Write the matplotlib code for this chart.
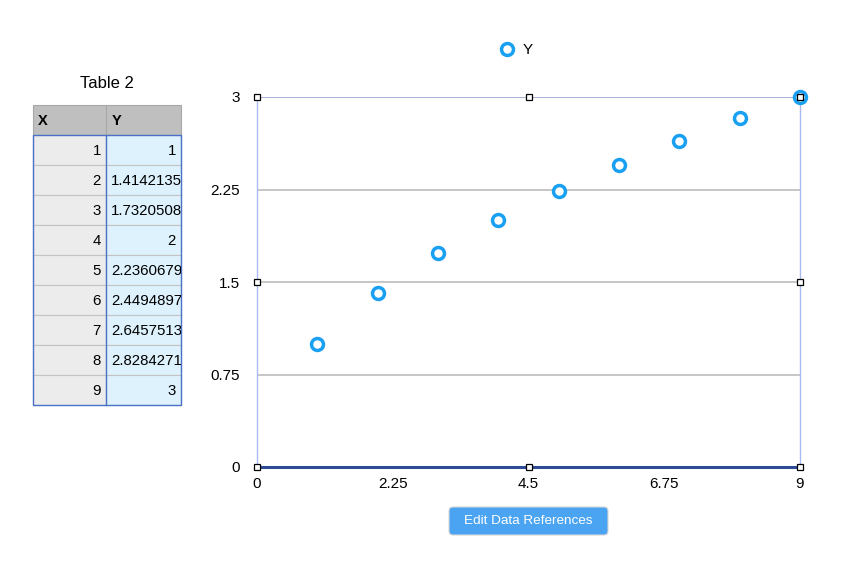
import matplotlib
matplotlib.use("Agg")
import matplotlib.pyplot as plt
from matplotlib.patches import Rectangle, FancyBboxPatch

# data (from the table in the screenshot)
x_vals = [1, 2, 3, 4, 5, 6, 7, 8, 9]
y_vals = [1, 1.41421356, 1.73205081, 2, 2.23606798, 2.44948974, 2.64575131, 2.82842712, 3]
y_text = ["1", "1.41421356", "1.73205081", "2", "2.23606798", "2.44948974", "2.64575131", "2.82842712", "3"]
x_ticks = [0, 2.25, 4.5, 6.75, 9]
x_tick_labels = ["0", "2.25", "4.5", "6.75", "9"]
y_ticks = [0, 0.75, 1.5, 2.25, 3]
y_tick_labels = ["0", "0.75", "1.5", "2.25", "3"]

plt.rcParams['font.family'] = ['Liberation Sans', 'DejaVu Sans']

W, H = 847, 570
fig = plt.figure(figsize=(W / 100, H / 100), dpi=100)

# background overlay in pixel coords for the table and button
bg = fig.add_axes([0, 0, 1, 1])
bg.set_xlim(0, W)
bg.set_ylim(H, 0)
bg.axis('off')

# table
bg.text(107, 83, "Table 2", ha='center', va='center', fontsize=12)
tx0, tx1, tx2 = 33, 106, 181
row_h = 30
top = 105
bg.add_patch(Rectangle((tx0, top), tx2 - tx0, row_h, fc='#bfbfbf', ec='#a8a8a8', lw=0.8))
bg.plot([tx1, tx1], [top, top + row_h], color='#a8a8a8', lw=0.8)
bg.text(tx0 + 5, top + row_h / 2 + 1, "X", ha='left', va='center', fontsize=10.5, weight='bold')
bg.text(tx1 + 6, top + row_h / 2 + 1, "Y", ha='left', va='center', fontsize=10.5, weight='bold')
for i, (xv, yt) in enumerate(zip(x_vals, y_text)):
    y0 = top + row_h * (i + 1)
    bg.add_patch(Rectangle((tx0, y0), tx1 - tx0, row_h, fc='#ececec', ec='#c4c4c4', lw=0.8))
    cell = Rectangle((tx1, y0), tx2 - tx1, row_h, fc='#ddf2fd', ec='#c4c4c4', lw=0.8)
    bg.add_patch(cell)
    bg.text(tx1 - 5, y0 + row_h / 2 + 1, str(xv), ha='right', va='center', fontsize=10.8)
    if '.' in yt:
        t = bg.text(tx1 + 5, y0 + row_h / 2 + 1, yt, ha='left', va='center', fontsize=10.8,
                    clip_on=True)
        t.set_clip_path(cell)
    else:
        bg.text(tx2 - 5, y0 + row_h / 2 + 1, yt, ha='right', va='center', fontsize=10.8)
# blue outline of selected body
bg.add_patch(Rectangle((tx0, top + row_h), tx2 - tx0, row_h * 9, fill=False, ec='#4a72c8', lw=1.0))
bg.plot([tx1, tx1], [top + row_h, top + row_h * 10], color='#4a72c8', lw=1.0)

# button
bg.add_patch(FancyBboxPatch((451, 509), 155, 24, boxstyle="round,pad=2,rounding_size=4",
                            fc='#4aa4f2', ec='#d6d6d6', lw=0.8))
bg.text(528, 521, "Edit Data References", ha='center', va='center', fontsize=9.7, color='white')

# chart
ax = fig.add_axes([257 / W, 1 - 467 / H, 543 / W, 370 / H])
ax.set_xlim(0, 9)
ax.set_ylim(0, 3)
ax.plot(x_vals, y_vals, 'o', ms=8.6, mfc='white', mec='#1aa0f2', mew=2.5,
        clip_on=False, zorder=5, label='Y')

ax.set_xticks(x_ticks)
ax.set_xticklabels(x_tick_labels)
ax.set_yticks(y_ticks)
ax.set_yticklabels(y_tick_labels)
ax.tick_params(length=0, labelsize=11, pad=0)
ax.tick_params(axis='y', pad=12)
ax.tick_params(axis='x', pad=7)
for yv in y_ticks[1:]:
    ax.axhline(yv, color='#c6c6c6', lw=1.4, zorder=1)
ax.axhline(3, color='#a9b3d8', lw=0.8, zorder=2)
ax.axhline(0, color='#2d4c95', lw=2.2, zorder=3, clip_on=False)
for side in ['top', 'bottom']:
    ax.spines[side].set_visible(False)
for side in ['left', 'right']:
    ax.spines[side].set_color('#a9bcf2')
    ax.spines[side].set_linewidth(1.0)

# selection handles
for hx, hy in [(0, 0), (0.5, 0), (1, 0), (0, 0.5), (1, 0.5), (0, 1), (0.5, 1), (1, 1)]:
    ax.plot(hx, hy, 's', ms=4.5, mfc='white', mec='black', mew=0.9,
            transform=ax.transAxes, clip_on=False, zorder=10)

fig.legend(loc='center', bbox_to_anchor=(516 / W, 1 - 50 / H), frameon=False,
           fontsize=11, handletextpad=0.5, handlelength=1.0)

fig.savefig("out.png", dpi=100)
